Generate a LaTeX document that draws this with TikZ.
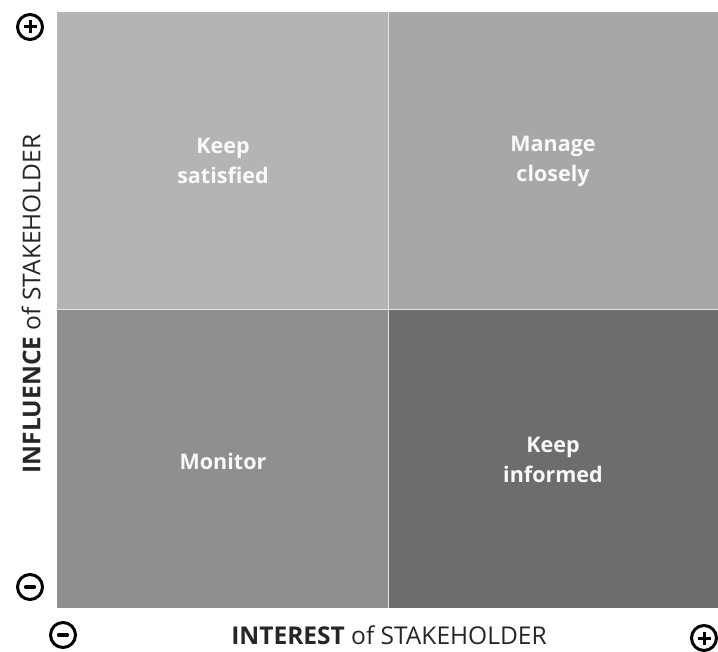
\documentclass[tikz,border=0pt]{standalone}
\usepackage{fontspec}
\setmainfont{Open Sans}
\begin{document}
\begin{tikzpicture}[x=1pt,y=-1pt,
  qlabel/.style={text=white!95!gray,font=\fontsize{21.5}{30}\selectfont\bfseries,align=center},
  axlabel/.style={text=black!85,font=\fontsize{24.5}{28}\selectfont},
  sign/.style={circle,draw=black,line width=3pt,minimum size=25pt,inner sep=0pt}]
\useasboundingbox (0,0) rectangle (718,652);
\fill[white] (0,0) rectangle (718,652);
\definecolor{qtl}{HTML}{B4B4B4}
\definecolor{qtr}{HTML}{A7A7A7}
\definecolor{qbl}{HTML}{8F8F8F}
\definecolor{qbr}{HTML}{6D6D6D}
\fill[qtl] (57,12) rectangle (388,310);
\fill[qtr] (388,12) rectangle (718,310);
\fill[qbl] (57,310) rectangle (388,608);
\fill[qbr] (388,310) rectangle (718,608);
\draw[white!80!gray,line width=1pt] (388,12) -- (388,608);
\draw[white!80!gray,line width=1pt] (57,310) -- (718,310);
\node[qlabel] (ks) at (223,161) {Keep\\satisfied};
\node[qlabel] (mc) at (553,161) {Manage\\closely};
\node[qlabel] (mo) at (223,461) {Monitor};
\node[qlabel] (ki) at (553,460) {Keep\\informed};
\node[axlabel] (xl) at (389,635) {\textbf{INTEREST} of STAKEHOLDER};
\node[axlabel,rotate=90] (yl) at (31,304) {\textbf{INFLUENCE} of STAKEHOLDER};
% signs
\node[sign] (yp) at (30,27) {};
\draw[line width=3pt] ([xshift=-6.5pt]yp.center) -- ([xshift=6.5pt]yp.center);
\draw[line width=3pt] ([yshift=-6.5pt]yp.center) -- ([yshift=6.5pt]yp.center);
\node[sign] (ym) at (30,587) {};
\draw[line width=3.2pt,line cap=round] ([xshift=-4.5pt]ym.center) -- ([xshift=4.5pt]ym.center);
\node[sign] (xm) at (63,635) {};
\draw[line width=3.2pt,line cap=round] ([xshift=-4.5pt]xm.center) -- ([xshift=4.5pt]xm.center);
\node[sign] (xp) at (704,638) {};
\draw[line width=3pt] ([xshift=-6.5pt]xp.center) -- ([xshift=6.5pt]xp.center);
\draw[line width=3pt] ([yshift=-6.5pt]xp.center) -- ([yshift=6.5pt]xp.center);
\end{tikzpicture}
\end{document}
